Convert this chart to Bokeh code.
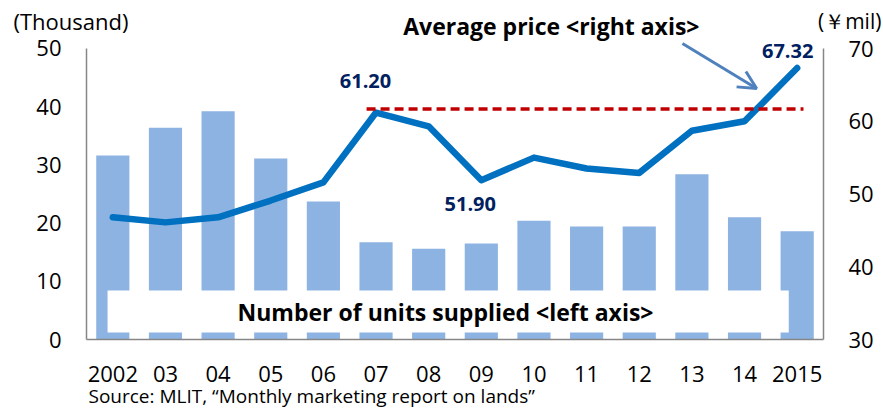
from bokeh.plotting import figure
from bokeh.models import (Range1d, LinearAxis, FixedTicker, Label, Arrow, OpenHead,
                          ColumnDataSource)
from bokeh.embed import file_html
from bokeh.resources import INLINE

years = ["2002", "03", "04", "05", "06", "07", "08", "09", "10", "11", "12", "13", "14", "2015"]
units_supplied = [31.6, 36.4, 39.2, 31.1, 23.7, 16.7, 15.6, 16.5, 20.4, 19.4, 19.4, 28.4, 21.0, 18.6]
avg_price = [46.8, 46.1, 46.8, 49.1, 51.6, 61.20, 59.3, 51.90, 55.0, 53.5, 52.9, 58.7, 60.0, 67.32]
peak_reference = 61.7
left_ticks = [0, 10, 20, 30, 40, 50]
right_ticks = [30, 40, 50, 60, 70]

FONT = "Open Sans"
n = len(years)
xpos = [i + 0.5 for i in range(n)]

# the frame fills the whole canvas; axes are drawn at fixed locations inside it
p = figure(width=883, height=410, output_backend="svg", toolbar_location=None,
           x_range=Range1d(-1.6337, n + 1.1398), y_range=Range1d(-12.199, 58.247),
           min_border=0)
p.extra_y_ranges = {"price": Range1d(20.241, 76.598)}
p.outline_line_color = None
p.grid.visible = False
p.background_fill_color = "white"
p.border_fill_color = "white"

src = ColumnDataSource(dict(x=xpos, units=units_supplied, price=avg_price, label=years))
p.vbar(x="x", top="units", width=0.63, source=src, fill_color="#8db3e2", line_color=None)

# white box behind the left-axis caption
p.quad(left=[0.40], right=[13.34], bottom=[1.2], top=[8.42], fill_color="white", line_color=None)

p.line(x="x", y="price", source=src, y_range_name="price", line_color="#0070c0",
       line_width=6.5, line_join="round", line_cap="round")
p.line(x=[5.32, 13.62], y=[peak_reference, peak_reference], y_range_name="price",
       line_color="#c00000", line_width=3.5, line_dash="9 5")

# axes
ax = p.xaxis[0]
ax.ticker = FixedTicker(ticks=xpos)
ax.major_label_overrides = {x: lab for x, lab in zip(xpos, years)}
ax.fixed_location = 0
ax.bounds = (0, n)
ly = p.yaxis[0]
ly.ticker = FixedTicker(ticks=left_ticks)
ly.fixed_location = 0
ly.bounds = (0, 50)
ry = LinearAxis(y_range_name="price", ticker=FixedTicker(ticks=right_ticks),
                fixed_location=n, bounds=(30, 70))
p.add_layout(ry, "right")
for a in (ax, ly, ry):
    a.axis_line_color = "#868686"
    a.axis_line_width = 1.5
    a.major_tick_line_color = None
    a.minor_tick_line_color = None
    a.major_tick_in = 0
    a.major_tick_out = 0
    a.major_label_text_font = FONT
    a.major_label_text_font_size = "22px"
    a.major_label_text_color = "black"
ax.major_label_standoff = 26
ly.major_label_standoff = 25
ry.major_label_standoff = 25

navy = "#002060"
for x, y, t in [(5.30, 65.6, "61.20"), (7.29, 48.56, "51.90"), (13.32, 69.59, "67.32")]:
    p.add_layout(Label(x=x, y=y, y_range_name="price", text=t, text_font=FONT,
                       text_font_size="20px", text_font_style="bold", text_color=navy,
                       text_align="center", text_baseline="middle"))

p.add_layout(Label(x=6.82, y=4.81, text="Number of units supplied <left axis>",
                   text_font=FONT, text_font_size="23px", text_font_style="bold",
                   text_color="black", text_align="center", text_baseline="middle"))
p.add_layout(Label(x=8.83, y=53.95, text="Average price <right axis>",
                   text_font=FONT, text_font_size="23px", text_font_style="bold",
                   text_color="black", text_align="center", text_baseline="middle"))
p.add_layout(Label(x=-1.387, y=54.8, text="(Thousand)",
                   text_font=FONT, text_font_size="22px", text_color="black",
                   text_align="left", text_baseline="middle"))
p.add_layout(Label(x=15.10, y=54.8, text="(\uffe5mil)",
                   text_font=FONT, text_font_size="21px", text_color="black",
                   text_align="right", text_baseline="middle"))
p.add_layout(Label(x=0.038, y=-9.75,
                   text="Source: MLIT, \u201cMonthly marketing report on lands\u201d",
                   text_font=FONT, text_font_size="19px", text_color="black",
                   text_align="left", text_baseline="middle"))

p.add_layout(Arrow(x_start=11.32, y_start=70.69, x_end=12.73, y_end=64.5, y_range_name="price",
                   line_color="#4f81bd", line_width=3,
                   end=OpenHead(size=18, line_color="#4f81bd", line_width=3)))

open("out.html", "w").write(file_html(p, INLINE))
